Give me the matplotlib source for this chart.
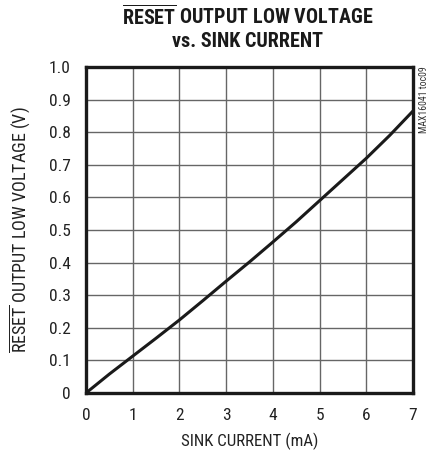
import matplotlib
matplotlib.use("Agg")
import matplotlib.pyplot as plt
from matplotlib import font_manager

current_ma = [0, 0.5, 1, 1.5, 2, 2.5, 3, 3.5, 4, 4.5, 5, 5.5, 6, 6.5, 7]
voltage_v = [0.0, 0.058, 0.113, 0.168, 0.224, 0.283, 0.343, 0.402, 0.463, 0.525, 0.59, 0.655, 0.72, 0.79, 0.865]
x_ticks = [0, 1, 2, 3, 4, 5, 6, 7]
y_ticks = [0, 0.1, 0.2, 0.3, 0.4, 0.5, 0.6, 0.7, 0.8, 0.9, 1.0]
y_tick_labels = ["0", "0.1", "0.2", "0.3", "0.4", "0.5", "0.6", "0.7", "0.8", "0.9", "1.0"]

names = {f.name for f in font_manager.fontManager.ttflist}
def pick(prefs):
    for p in prefs:
        if p in names:
            return p
    return "DejaVu Sans"

fam = pick(["Roboto Condensed", "Archivo Narrow", "PT Sans Narrow", "Barlow Condensed", "Liberation Sans"])
plt.rcParams['font.family'] = [fam, 'DejaVu Sans']
plt.rcParams['mathtext.fontset'] = 'custom'
plt.rcParams['mathtext.rm'] = fam
plt.rcParams['mathtext.bf'] = fam + ':black'

fig = plt.figure(figsize=(4.35, 4.5), dpi=100)
ax = fig.add_axes([0.1977, 0.1267, 0.7517, 0.7244])

ax.plot(current_ma, voltage_v, color='#1a1a1a', lw=2.2, solid_capstyle='butt')
ax.set_xlim(0, 7)
ax.set_ylim(0, 1.0)
ax.set_xticks(x_ticks)
ax.set_yticks(y_ticks)
ax.set_yticklabels(y_tick_labels)
ax.grid(True, color='#666666', lw=1.0)
ax.set_axisbelow(True)
for s in ax.spines.values():
    s.set_linewidth(2.4)
    s.set_color('#1a1a1a')
ax.tick_params(length=0, labelsize=12.5, colors='#222222')
ax.tick_params(axis='y', pad=11)
ax.tick_params(axis='x', pad=11)
ax.set_xlabel("SINK CURRENT (mA)", fontsize=12.2, color='#222222')
ax.xaxis.set_label_coords(0.5, -0.122)
ax.set_ylabel(r"$\overline{\mathrm{RESET}}$" + " OUTPUT LOW VOLTAGE (V)", fontsize=13, color='#222222')
ax.yaxis.set_label_coords(-0.165, 0.5)

fig.text(0.570, 0.964, r"$\overline{\mathbf{RESET}}$" + " OUTPUT LOW VOLTAGE", ha='center', va='center',
         fontsize=14.5, fontweight='black', color='#1a1a1a')
fig.text(0.570, 0.907, "vs. SINK CURRENT", ha='center', va='center',
         fontsize=14.5, fontweight='black', color='#1a1a1a')
fig.text(0.975, 0.778, "MAX16041 toc09", rotation=90, ha='center', va='center',
         fontsize=7, color='#333333')

fig.savefig("out.png", dpi=100)
